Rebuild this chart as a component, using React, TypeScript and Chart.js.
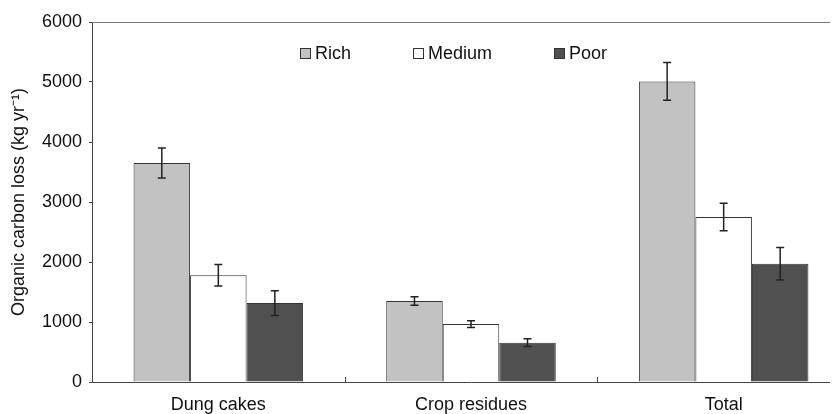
import React, { useEffect, useRef } from "react";
import { Chart, registerables } from "chart.js";

Chart.register(...registerables);

const categories = ["Dung cakes", "Crop residues", "Total"];
const seriesNames = ["Rich", "Medium", "Poor"];
const richValues = [3650, 1350, 5010];
const richErrors = [250, 70, 315];
const mediumValues = [1780, 965, 2750];
const mediumErrors = [180, 55, 230];
const poorValues = [1315, 655, 1970];
const poorErrors = [205, 65, 270];
const yTicks = [0, 1000, 2000, 3000, 4000, 5000, 6000];

const fills = ["#c2c2c2", "#ffffff", "#505050"];
const FONT = "'Liberation Sans', Arial, Helvetica, sans-serif";

const errorBarPlugin = {
  id: "errorBars",
  afterDatasetsDraw(chart: any) {
    const { ctx, scales } = chart;
    const y = scales.y;
    ctx.save();
    ctx.strokeStyle = "#222";
    ctx.lineWidth = 1.5;
    chart.data.datasets.forEach((ds: any, di: number) => {
      const meta = chart.getDatasetMeta(di);
      meta.data.forEach((el: any, i: number) => {
        const v = ds.data[i];
        const e = ds.errors[i];
        const yt = y.getPixelForValue(v + e);
        const yb = y.getPixelForValue(v - e);
        const x = el.x;
        const cap = 4;
        ctx.beginPath();
        ctx.moveTo(x, yt);
        ctx.lineTo(x, yb);
        ctx.moveTo(x - cap, yt);
        ctx.lineTo(x + cap, yt);
        ctx.moveTo(x - cap, yb);
        ctx.lineTo(x + cap, yb);
        ctx.stroke();
      });
    });
    ctx.restore();
  },
};

const framePlugin = {
  id: "frame",
  afterDraw(chart: any) {
    const { ctx, chartArea, scales } = chart;
    const x = scales.x;
    ctx.save();
    ctx.strokeStyle = "#777";
    ctx.lineWidth = 1;
    ctx.beginPath();
    ctx.moveTo(chartArea.left, chartArea.top + 0.5);
    ctx.lineTo(chartArea.right, chartArea.top + 0.5);
    ctx.stroke();
    ctx.strokeStyle = "#444";
    ctx.beginPath();
    for (let i = 1; i < categories.length; i++) {
      const px = Math.round((x.getPixelForValue(i - 1) + x.getPixelForValue(i)) / 2) + 0.5;
      ctx.moveTo(px, chartArea.bottom);
      ctx.lineTo(px, chartArea.bottom - 5);
    }
    ctx.stroke();
    ctx.restore();
  },
};

export default function App() {
  const ref = useRef<HTMLCanvasElement | null>(null);

  useEffect(() => {
    if (!ref.current) return;
    const values = [richValues, mediumValues, poorValues];
    const errors = [richErrors, mediumErrors, poorErrors];
    const chart = new Chart(ref.current, {
      type: "bar",
      data: {
        labels: categories,
        datasets: seriesNames.map((name, i) => ({
          label: name,
          data: values[i],
          errors: errors[i],
          backgroundColor: fills[i],
          borderColor: "#333",
          borderWidth: 1,
          categoryPercentage: 0.671,
          barPercentage: 1,
        })) as any,
      },
      options: {
        responsive: false,
        animation: false,
        layout: { padding: { top: 14, right: 0, left: 0, bottom: 0 } },
        plugins: {
          legend: { display: false },
          tooltip: { enabled: false },
        },
        scales: {
          x: {
            grid: { drawOnChartArea: false, drawTicks: false },
            border: { display: true, color: "#444", width: 1 },
            ticks: {
              color: "#111",
              padding: 12,
              font: { family: FONT, size: 18 },
            },
            afterFit(scale: any) {
              scale.height = 32;
            },
          },
          y: {
            min: 0,
            max: 6000,
            afterBuildTicks(scale: any) {
              scale.ticks = yTicks.map((v) => ({ value: v }));
            },
            grid: { drawOnChartArea: false, drawTicks: true, tickLength: 3, color: "#444" },
            border: { display: true, color: "#444", width: 1 },
            ticks: {
              color: "#111",
              padding: 7,
              font: { family: FONT, size: 18 },
              callback: (v: any) => String(v),
            },
            title: {
              display: true,
              text: "Organic carbon loss (kg yr\u207B\u00B9)",
              color: "#111",
              font: { family: FONT, size: 18 },
              padding: { top: 0, bottom: 0 },
            },
            afterFit(scale: any) {
              scale.width = 84;
              scale.paddingTop = 0;
              scale.paddingBottom = 0;
            },
          },
        },
      },
      plugins: [errorBarPlugin, framePlugin],
    });
    return () => chart.destroy();
  }, []);

  return (
    <div style={{ width: 830, height: 406, overflow: "hidden", position: "relative" }}>
      <canvas ref={ref} width={842} height={406} style={{ display: "block" }} />
      <div
        style={{
          position: "absolute",
          left: 292,
          top: 34,
          display: "flex",
          gap: 62,
          fontFamily: FONT,
          fontSize: 18,
          lineHeight: "22px",
          color: "#111",
        }}
      >
        {seriesNames.map((name, i) => (
          <div key={name} style={{ display: "flex", alignItems: "center" }}>
            <span
              style={{
                width: 9,
                height: 9,
                background: fills[i],
                border: "1px solid #333",
                marginRight: 4,
                display: "inline-block",
              }}
            />
            <span>{name}</span>
          </div>
        ))}
      </div>
    </div>
  );
}
